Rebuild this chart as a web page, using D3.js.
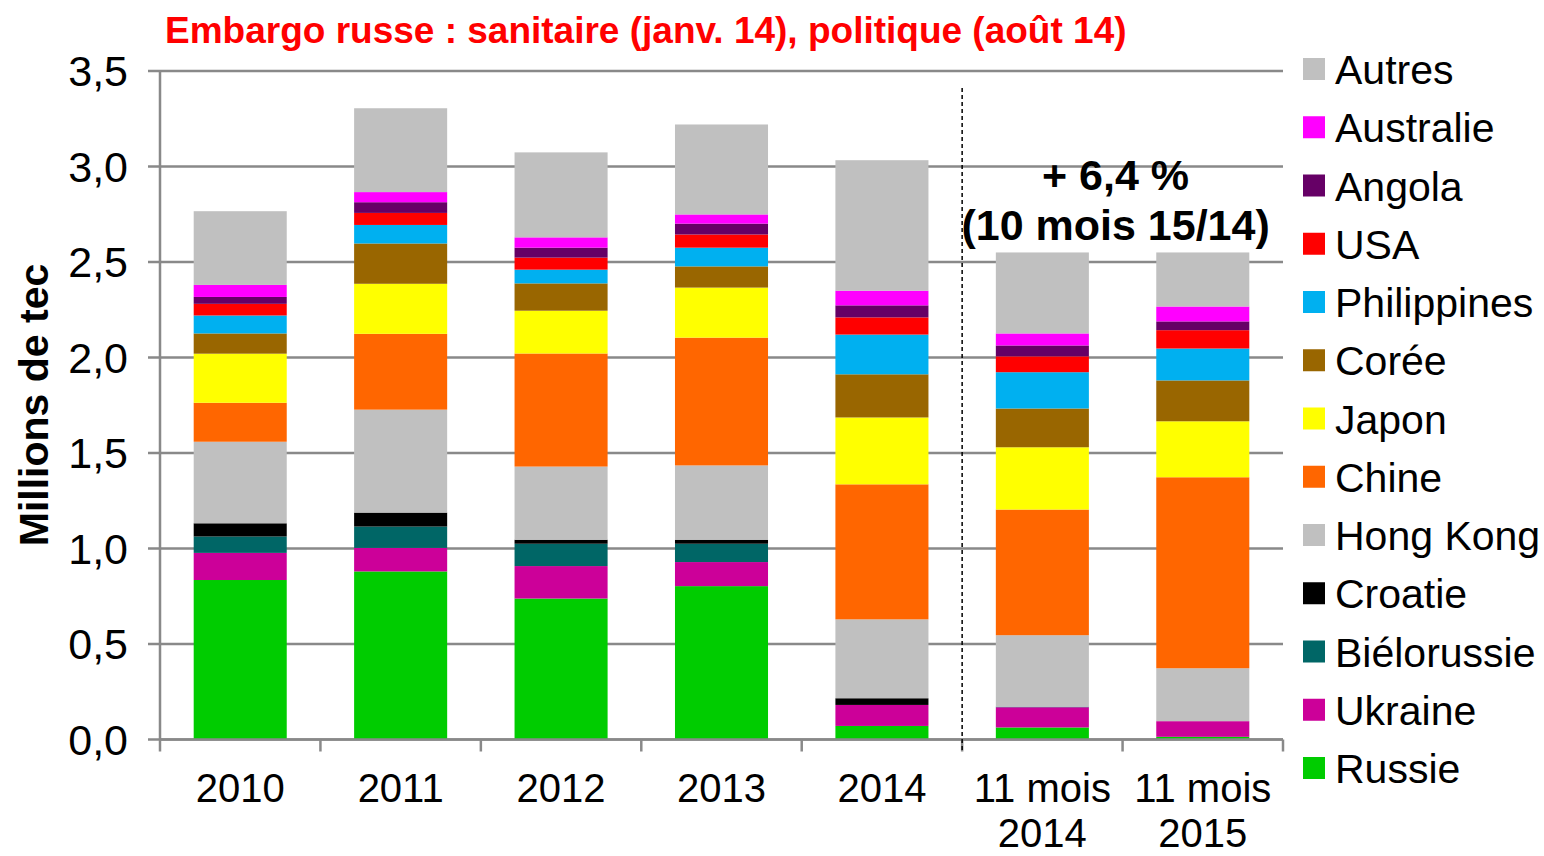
<!DOCTYPE html>
<html><head><meta charset="utf-8">
<script src="https://cdn.jsdelivr.net/npm/d3@7"></script>
<style>body{margin:0;background:#fff}svg{display:block}text{font-family:"Liberation Sans",Arial,sans-serif}</style>
</head><body>
<svg id="c" width="1544" height="856"></svg>
<script>
const categories = ["2010","2011","2012","2013","2014","11 mois|2014","11 mois|2015"];
const seriesNames = ["Russie","Ukraine","Biélorussie","Croatie","Hong Kong","Chine","Japon","Corée","Philippines","USA","Angola","Australie","Autres"];
const seriesColors = ["#00CC00","#CC0099","#006666","#000000","#C0C0C0","#FF6600","#FFFF00","#996600","#00B0F0","#FF0000","#660066","#FF00FF","#C0C0C0"];
const russie      = [0.835,0.880,0.738,0.803,0.071,0.063,0.014];
const ukraine     = [0.142,0.123,0.170,0.126,0.110,0.106,0.082];
const bielorussie = [0.086,0.112,0.117,0.096,0.000,0.003,0.000];
const croatie     = [0.069,0.073,0.021,0.021,0.035,0.000,0.000];
const hongKong    = [0.427,0.539,0.383,0.389,0.413,0.374,0.277];
const chine       = [0.204,0.397,0.592,0.669,0.707,0.658,1.000];
const japon       = [0.257,0.262,0.224,0.262,0.350,0.326,0.293];
const coree       = [0.106,0.211,0.143,0.111,0.226,0.203,0.214];
const philippines = [0.094,0.097,0.072,0.098,0.208,0.190,0.167];
const usa         = [0.061,0.063,0.063,0.069,0.090,0.083,0.096];
const angola      = [0.036,0.056,0.052,0.057,0.063,0.057,0.046];
const australie   = [0.063,0.053,0.054,0.048,0.077,0.063,0.078];
const autres      = [0.386,0.439,0.445,0.471,0.683,0.424,0.283];
const yTicks = [0,0.5,1,1.5,2,2.5,3,3.5];
const yTickLabels = ["0,0","0,5","1,0","1,5","2,0","2,5","3,0","3,5"];
const titleText = "Embargo russe : sanitaire (janv. 14), politique (août 14)";
const annotation = ["+ 6,4 %","(10 mois 15/14)"];
const yTitle = "Millions de tec";

const seriesValues = [russie,ukraine,bielorussie,croatie,hongKong,chine,japon,coree,philippines,usa,angola,australie,autres];
const table = categories.map((c,i)=>{const o={cat:c}; seriesNames.forEach((s,j)=>o[s]=seriesValues[j][i]); return o;});
const stack = d3.stack().keys(seriesNames)(table);

const svg = d3.select("#c");
const L=160, R=1283, T=71, B=739.5;
const x = d3.scaleBand().domain(categories).range([L,R]).paddingInner(0.42).paddingOuter(0.21);
const y = d3.scaleLinear().domain([0,3.5]).range([B,T]);
const grey="#898989";

// gridlines + y ticks
svg.append("g").selectAll("line").data(yTicks).join("line")
  .attr("x1",L-12).attr("x2",R).attr("y1",d=>y(d)).attr("y2",d=>y(d))
  .attr("stroke",grey).attr("stroke-width",2.5);
svg.append("g").selectAll("text").data(yTicks).join("text")
  .attr("x",128).attr("y",d=>y(d)+15).attr("text-anchor","end")
  .attr("font-size",43).text((d,i)=>yTickLabels[i]);

// bars
svg.append("g").selectAll("g").data(stack).join("g")
  .attr("fill",(d,i)=>seriesColors[i])
  .selectAll("rect").data(d=>d).join("rect")
  .attr("x",d=>x(d.data.cat)).attr("width",x.bandwidth())
  .attr("y",d=>y(d[1])).attr("height",d=>Math.max(0,y(d[0])-y(d[1])));

// axes
svg.append("line").attr("x1",L).attr("x2",L).attr("y1",T).attr("y2",B).attr("stroke",grey).attr("stroke-width",2.5);
svg.append("line").attr("x1",L).attr("x2",R).attr("y1",B).attr("y2",B).attr("stroke",grey).attr("stroke-width",2.5);
const bounds = categories.map(c=>x(c)-x.step()*x.paddingInner()/2).concat([R]);
svg.append("g").selectAll("line").data(bounds).join("line")
  .attr("x1",d=>d).attr("x2",d=>d).attr("y1",B).attr("y2",B+12)
  .attr("stroke",grey).attr("stroke-width",2.5);

// x labels
const xl = svg.append("g").selectAll("text").data(categories).join("text")
  .attr("text-anchor","middle").attr("font-size",40)
  .attr("x",d=>x(d)+x.bandwidth()/2).attr("y",802);
xl.each(function(d){
  const parts=d.split("|");
  const t=d3.select(this);
  parts.forEach((p,i)=>t.append("tspan").attr("x",x(d)+x.bandwidth()/2).attr("dy",i?45:0).text(p));
});

// dashed separator
const sepX = (x(categories[4])+x.bandwidth()+x(categories[5]))/2;
svg.append("line").attr("x1",sepX).attr("x2",sepX).attr("y1",88).attr("y2",752)
  .attr("stroke","#000").attr("stroke-width",1.5).attr("stroke-dasharray","4,3");

// annotation
const annX = (x(categories[5])+x(categories[6])+x.bandwidth())/2 - 7;
svg.append("text").attr("x",annX).attr("y",190).attr("text-anchor","middle").attr("font-size",43).attr("font-weight","bold").text(annotation[0]);
svg.append("text").attr("x",annX).attr("y",240).attr("text-anchor","middle").attr("font-size",43).attr("font-weight","bold").text(annotation[1]);

// title
svg.append("text").attr("x",165).attr("y",43).attr("fill","#FF0000").attr("font-size",37).attr("font-weight","bold").text(titleText);

// y title
svg.append("text").attr("transform","translate(48,405) rotate(-90)").attr("text-anchor","middle")
  .attr("font-size",41).attr("font-weight","bold").text(yTitle);

// legend (top to bottom reversed)
const legendItems = seriesNames.map((n,i)=>({n,c:seriesColors[i]})).reverse();
const lg = svg.append("g").selectAll("g").data(legendItems).join("g")
  .attr("transform",(d,i)=>`translate(1303,${69+i*58.25})`);
lg.append("rect").attr("x",0).attr("y",-11).attr("width",22).attr("height",22).attr("fill",d=>d.c);
lg.append("text").attr("x",32).attr("y",15).attr("font-size",41).text(d=>d.n);
</script>
</body></html>
